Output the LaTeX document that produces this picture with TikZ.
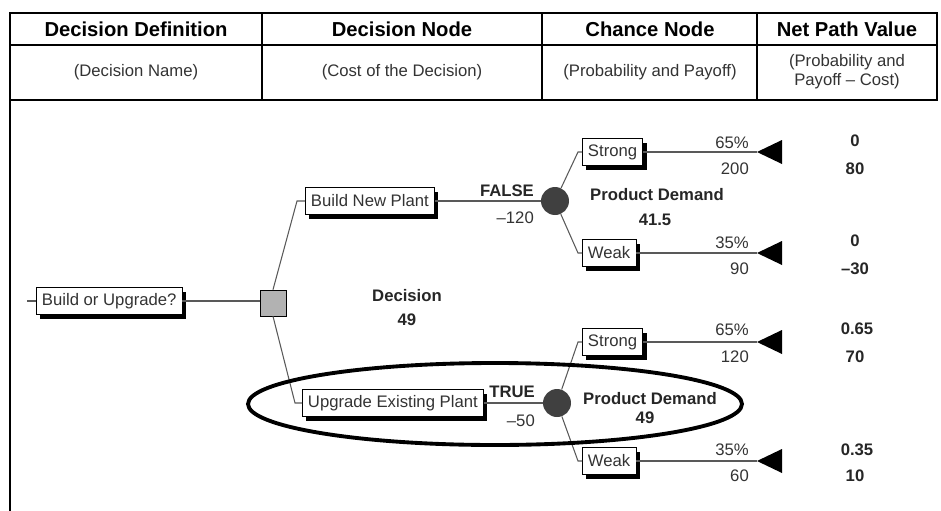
\documentclass[tikz,border=0pt]{standalone}
\usepackage{fontspec}
\setmainfont{Liberation Sans}
\usetikzlibrary{shadows}
\begin{document}
\begin{tikzpicture}
  [x=0.02cm,y=-0.02cm,
   every node/.style={font=\fontsize{9.5}{10.5}\selectfont,text=black!80},
   head/.style={font=\fontsize{11.5}{13}\selectfont\bfseries,text=black},
   sub/.style={font=\fontsize{9.5}{11}\selectfont,align=center},
   bold/.style={font=\fontsize{9.5}{11}\selectfont\bfseries,text=black!85},
   box/.style={draw,fill=white,anchor=west,inner xsep=3.2pt,inner ysep=0pt,
     minimum height=0.54cm,
     drop shadow={fill=black,opacity=1,shadow xshift=2.3pt,shadow yshift=-2.3pt}},
   dsq/.style={draw,fill=black!30,minimum size=0.52cm,inner sep=0pt},
   chance/.style={circle,fill=black!75,minimum size=0.56cm,inner sep=0pt},
   grid/.style={line width=1.2pt},
   branch/.style={black!65,line width=0.6pt}]
  \useasboundingbox (0,0) rectangle (941,511);

  \draw[grid] (10,511) -- (10,13) -- (937,13) -- (937,100) -- (10,100);
  \draw[grid] (10,45) -- (937,45);
  \draw[grid] (262,13) -- (262,100);
  \draw[grid] (542,13) -- (542,100);
  \draw[grid] (757,13) -- (757,100);

  \node[head] (h1) at (136,29) {Decision Definition};
  \node[head] (h2) at (402,29) {Decision Node};
  \node[head] (h3) at (650,29) {Chance Node};
  \node[head] (h4) at (847,29) {Net Path Value};
  \node[sub] (r1) at (136,72) {(Decision Name)};
  \node[sub] (r2) at (402,72) {(Cost of the Decision)};
  \node[sub] (r3) at (650,72) {(Probability and Payoff)};
  \node[sub] (r4) at (847,72) {(Probability and\\Payoff -- Cost)};

  \coordinate (qin) at (27,301);
  \node[box] (q) at (36,301) {Build or Upgrade?};
  \node[dsq] (d) at (273,303) {};
  \draw[branch] (qin) -- (q.west);
  \draw[branch] (q.east) -- (q.east -| d.west);

  \node[box] (bnp) at (305,201) {Build New Plant};
  \node[box] (uep) at (302,403) {Upgrade Existing Plant};
  \coordinate (bnpk) at (297,201);
  \coordinate (uepk) at (295,403);
  \draw[branch] (d.north) -- (bnpk) -- (bnp.west);
  \draw[branch] (d.south) -- (uepk) -- (uep.west);
  \node[bold] (dl) at (407,296) {Decision};
  \node[bold] (dv) at (407,320) {49};

  \node[chance] (c1) at (555,201) {};
  \node[chance] (c2) at (557,403) {};
  \draw[branch] (bnp.east) -- (c1);
  \draw[branch] (uep.east) -- (c2);
  \node[bold,anchor=east] (f1) at (540,191) {FALSE};
  \node[anchor=east] (f2) at (540,218) {--120};
  \node[bold,anchor=east] (t1) at (541,392) {TRUE};
  \node[anchor=east] (t2) at (541,421) {--50};

  \node[box] (s1) at (582,152) {Strong};
  \node[box] (w1) at (582,253) {Weak};
  \node[box] (s2) at (582,342) {Strong};
  \node[box] (w2) at (582,461) {Weak};
  \coordinate (s1k) at (578,152);
  \coordinate (w1k) at (578,253);
  \coordinate (s2k) at (578,342);
  \coordinate (w2k) at (578,461);
  \draw[branch] (c1) -- (s1k) -- (s1.west);
  \draw[branch] (c1) -- (w1k) -- (w1.west);
  \draw[branch] (c2) -- (s2k) -- (s2.west);
  \draw[branch] (c2) -- (w2k) -- (w2.west);
  \node[bold] (p1) at (657,195) {Product Demand};
  \node[bold] (v1) at (655,220) {41.5};
  \node[bold] (p2) at (650,399) {Product Demand};
  \node[bold] (v2) at (645,418) {49};

  \coordinate (e1) at (757,152);
  \coordinate (e2) at (757,253);
  \coordinate (e3) at (757,342);
  \coordinate (e4) at (757,461);
  \draw[branch] (s1.east) -- (e1);
  \draw[branch] (w1.east) -- (e2);
  \draw[branch] (s2.east) -- (e3);
  \draw[branch] (w2.east) -- (e4);
  \fill (e1) -- ++(25,-12) -- ++(0,24) -- cycle;
  \fill (e2) -- ++(25,-12) -- ++(0,24) -- cycle;
  \fill (e3) -- ++(25,-12) -- ++(0,24) -- cycle;
  \fill (e4) -- ++(25,-12) -- ++(0,24) -- cycle;

  \node[anchor=east] (pr1) at (755,143) {65\%};
  \node[anchor=east] (po1) at (755,169) {200};
  \node[anchor=east] (pr2) at (755,243) {35\%};
  \node[anchor=east] (po2) at (755,269) {90};
  \node[anchor=east] (pr3) at (755,330) {65\%};
  \node[anchor=east] (po3) at (755,357) {120};
  \node[anchor=east] (pr4) at (755,450) {35\%};
  \node[anchor=east] (po4) at (755,476) {60};

  \node[bold] (n1) at (855,141) {0};
  \node[bold] (m1) at (855,169) {80};
  \node[bold] (n2) at (855,241) {0};
  \node[bold] (m2) at (855,269) {--30};
  \node[bold] (n3) at (857,329) {0.65};
  \node[bold] (m3) at (855,357) {70};
  \node[bold] (n4) at (857,450) {0.35};
  \node[bold] (m4) at (855,476) {10};

  \draw[line width=2.2pt] (495,404) ellipse [x radius=247, y radius=41];
\end{tikzpicture}
\end{document}
